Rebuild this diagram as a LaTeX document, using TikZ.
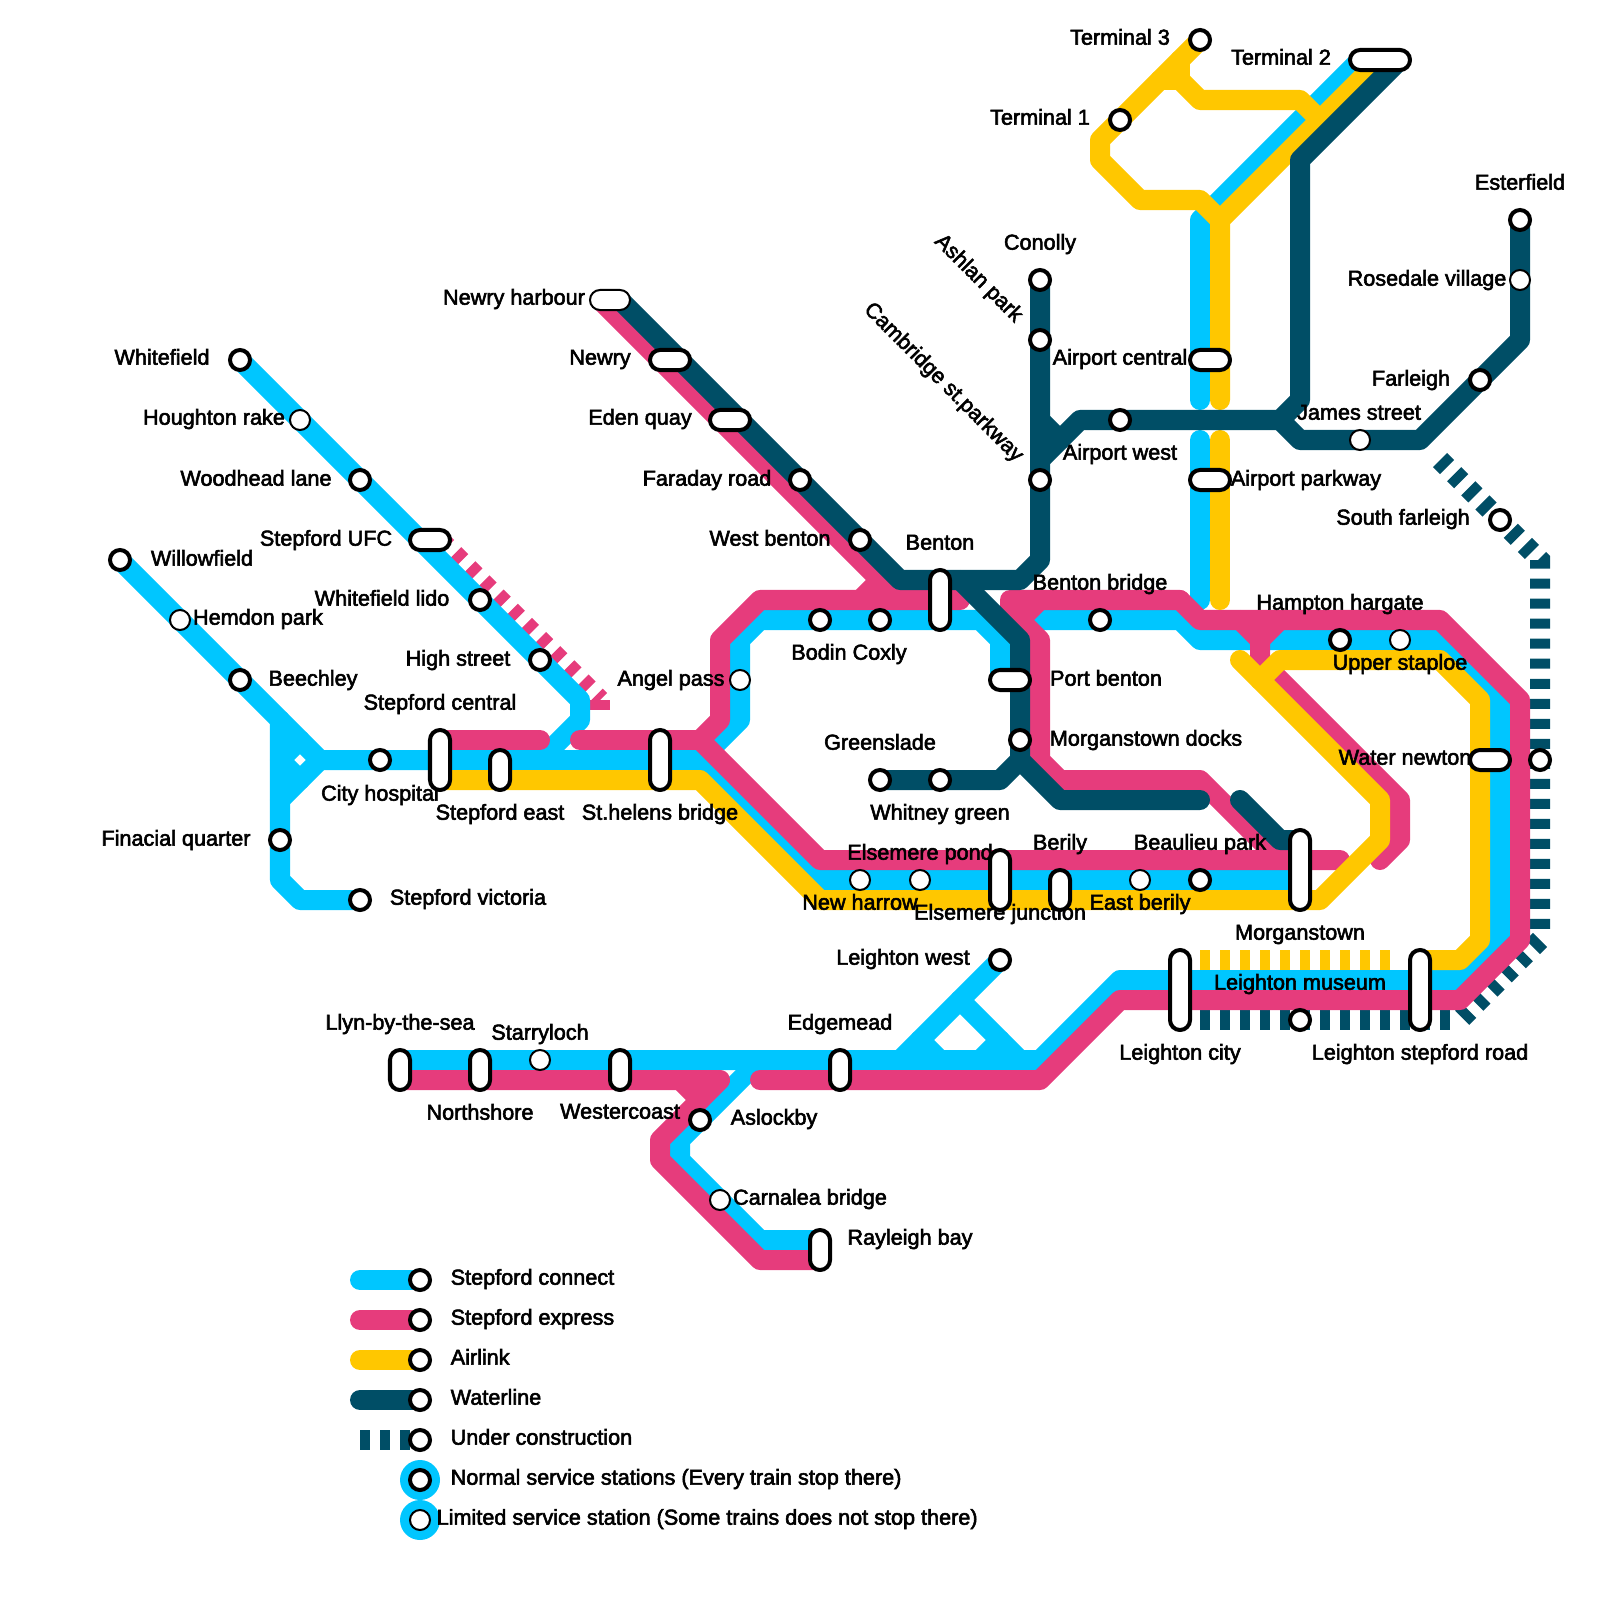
\documentclass[tikz,border=0pt]{standalone}
\usepackage{fontspec}
\setmainfont[RawFeature={embolden=2.6}]{Liberation Sans}
\usetikzlibrary{positioning}
\definecolor{connectblue}{RGB}{0, 198, 255}
\definecolor{expresspink}{RGB}{230, 60, 124}
\definecolor{airlinkyellow}{RGB}{255, 199, 0}
\definecolor{waterteal}{RGB}{0, 78, 102}
\pgfdeclarelayer{lines}
\pgfdeclarelayer{labels}
\pgfsetlayers{lines,labels,main}
\tikzset{
  track/.style={line width=.2cm, line cap=round, line join=round},
  connect/.style={track, connectblue},
  express/.style={track, expresspink},
  airlink/.style={track, airlinkyellow},
  water/.style={track, waterteal},
  unbuilt/.style={line width=.2cm, line cap=butt, line join=miter, dash pattern=on .1cm off .1cm},
  stn/.style={circle, draw=black, fill=white, line width=.04cm, minimum size=.2cm, inner sep=0pt, outer sep=0pt},
  ltd/.style={stn, line width=.02cm},
  pillv/.style={rectangle, rounded corners=.1cm, draw=black, fill=white, line width=.04cm, minimum width=.2cm, minimum height=#1, inner sep=0pt, outer sep=0pt},
  pillh/.style={rectangle, rounded corners=.1cm, draw=black, fill=white, line width=.04cm, minimum height=.2cm, minimum width=#1, inner sep=0pt, outer sep=0pt},
  lbl/.style={font=\fontsize{6.15}{7.4}\selectfont, inner sep=0pt, text height=5pt, text depth=1.2pt}
}

\begin{document}
\begin{tikzpicture}[x=.01cm, y=-.01cm]
  \useasboundingbox (0,0) rectangle (1600,1600);

  %% STATIONS - west branches
  \node[stn] (whitefield) at (240,360) {};
  \node[ltd] (houghton) at (300,420) {};
  \node[stn] (woodhead) at (360,480) {};
  \node[pillh=.4cm] (ufc) at (430,540) {};
  \node[stn] (lido) at (480,600) {};
  \node[stn] (highstreet) at (540,660) {};
  \node[stn] (willowfield) at (120,560) {};
  \node[ltd] (hemdon) at (180,620) {};
  \node[stn] (beechley) at (240,680) {};
  \node[stn] (cityhospital) at (380,760) {};
  \node[stn] (finacial) at (280,840) {};
  \node[stn] (victoria) at (360,900) {};
  \node[pillv=.6cm] (central) at (440,760) {};
  \node[pillv=.4cm] (stepeast) at (500,770) {};
  \node[pillv=.6cm] (sthelens) at (660,760) {};

  %% STATIONS - middle
  \node[pillh=.4cm, line width=.02cm] (harbour) at (610,300) {};
  \node[pillh=.4cm] (newry) at (670,360) {};
  \node[pillh=.4cm] (eden) at (730,420) {};
  \node[stn] (faraday) at (800,480) {};
  \node[stn] (westbenton) at (860,540) {};
  \node[pillv=.6cm] (benton) at (940,600) {};
  \node[stn] (bodin) at (820,620) {};
  \node[stn] (coxly) at (880,620) {};
  \node[ltd] (angel) at (740,680) {};
  \node[pillh=.4cm] (portbenton) at (1010,680) {};
  \node[stn] (docks) at (1020,740) {};
  \node[stn] (greenslade) at (880,780) {};
  \node[stn] (whitney) at (940,780) {};
  \node[stn] (bentonbridge) at (1100,620) {};

  %% STATIONS - airport
  \node[stn] (conolly) at (1040,280) {};
  \node[stn] (ashlan) at (1040,340) {};
  \node[stn] (cambridge) at (1040,480) {};
  \node[pillh=.4cm] (aircentral) at (1210,360) {};
  \node[stn] (airwest) at (1120,420) {};
  \node[pillh=.4cm] (airparkway) at (1210,480) {};
  \node[ltd] (james) at (1360,440) {};
  \node[stn] (farleigh) at (1480,380) {};
  \node[ltd] (rosedale) at (1520,280) {};
  \node[stn] (esterfield) at (1520,220) {};
  \node[stn] (terminalc) at (1200,40) {};
  \node[pillh=.6cm] (terminalb) at (1380,60) {};
  \node[stn] (terminala) at (1120,120) {};
  \node[stn] (southfarleigh) at (1500,520) {};

  %% STATIONS - east and south
  \node[stn] (hampton) at (1340,640) {};
  \node[ltd] (staploe) at (1400,640) {};
  \node[pillh=.4cm] (waternewton) at (1490,760) {};
  \node[stn] (waterdot) at (1540,760) {};
  \node[pillv=.8cm] (morganstown) at (1300,870) {};
  \node[stn] (beaulieu) at (1200,880) {};
  \node[ltd] (eastberily) at (1140,880) {};
  \node[pillv=.4cm] (berily) at (1060,890) {};
  \node[pillv=.6cm] (junction) at (1000,880) {};
  \node[ltd] (pond) at (860,880) {};
  \node[ltd] (harrow) at (920,880) {};
  \node[stn] (leightonwest) at (1000,960) {};
  \node[pillv=.8cm] (leightoncity) at (1180,990) {};
  \node[pillv=.8cm] (stepfordroad) at (1420,990) {};
  \node[stn] (museum) at (1300,1020) {};
  \node[pillv=.4cm] (llyn) at (400,1070) {};
  \node[pillv=.4cm] (northshore) at (480,1070) {};
  \node[ltd] (starryloch) at (540,1060) {};
  \node[pillv=.4cm] (westercoast) at (620,1070) {};
  \node[pillv=.4cm] (edgemead) at (840,1070) {};
  \node[stn] (aslockby) at (700,1120) {};
  \node[ltd] (carnalea) at (720,1200) {};
  \node[pillv=.4cm] (rayleigh) at (820,1250) {};

  %% LEGEND stations
  \node[stn] (keyconnect) at (420,1280) {};
  \node[stn] (keyexpress) at (420,1320) {};
  \node[stn] (keyairlink) at (420,1360) {};
  \node[stn] (keywater) at (420,1400) {};
  \node[stn] (keyunbuilt) at (420,1440) {};
  \node[stn] (keynormal) at (420,1480) {};
  \node[ltd] (keylimited) at (420,1520) {};

  \begin{pgfonlayer}{lines}
    %% UNDER CONSTRUCTION
    \draw[unbuilt, expresspink] (ufc.center) ++(10,0) -- (600,700);
    \draw[expresspink, line width=.1cm] (590,705) -- (610,705);
    \draw[unbuilt, waterteal] (1440,460) -- (southfarleigh.center) -- (1540,560) -- (1540,930);
    \draw[unbuilt, waterteal] (1540,940) -- (1460,1020);
    \draw[unbuilt, waterteal] (1200,1020) -- (1450,1020);
    \draw[unbuilt, airlinkyellow] (1200,960) -- (1400,960);

    %% STEPFORD CONNECT
    \draw[connect] (whitefield.center) -- (highstreet.center) -- (580,700) -- (580,720) -- (540,760);
    \draw[connect] (willowfield.center) -- (320,760) -- (700,760) -- (820,880) -- (1290,880);
    \draw[connect] (280,720) -- (finacial.center) -- (280,880) -- (300,900) -- (victoria.center);
    \draw[connect] (320,760) -- (280,800);
    \draw[connect] (300,740) -- (280,760) -- (300,780);
    \draw[connect] (700,760) -- (740,720) -- (angel.center) -- (740,640) -- (760,620) -- (980,620) -- (1000,640) -- (1000,680);
    \draw[connect] (1040,620) -- (1180,620) -- (1200,640) -- (1440,640) -- (1500,700) -- (1500,940) -- (1460,980) -- (1120,980) -- (1040,1060) -- (400,1060);
    \draw[connect] (leightonwest.center) -- (900,1060);
    \draw[connect] (960,1000) -- (1020,1060);
    \draw[connect] (920,1040) -- (940,1060);
    \draw[connect] (980,1060) -- (1000,1040);
    \draw[connect] (760,1060) -- (aslockby.center) -- (680,1140) -- (680,1160) -- (carnalea.center) -- (760,1240) -- (820,1240);
    \draw[connect] (1360,60) -- (1200,220) -- (1200,400);
    \draw[connect] (1200,440) -- (1200,600);

    %% STEPFORD EXPRESS
    \draw[express] (600,300) -- (900,600);
    \draw[express] (960,600) -- (760,600) -- (720,640) -- (720,720) -- (700,740) -- (820,860) -- (1340,860);
    \draw[express] (580,740) -- (700,740);
    \draw[express] (440,740) -- (540,740);
    \draw[express] (860,600) -- (880,580);
    \draw[express] (1180,600) -- (1010,600) -- (1010,610) -- (1040,640) -- (1040,760) -- (1060,780) -- (1200,780) -- (1280,860);
    \draw[express] (1020,620) -- (1040,600);
    \draw[express] (1180,600) -- (1200,620) -- (1440,620) -- (1520,700) -- (1520,940) -- (1460,1000) -- (1120,1000) -- (1040,1080) -- (760,1080);
    \draw[express] (1240,620) -- (1260,640) -- (1280,620);
    \draw[express] (1260,620) -- (1260,660) -- (1400,800) -- (1400,840) -- (1380,860);
    \draw[express] (400,1080) -- (720,1080) -- (660,1140) -- (660,1160) -- (760,1260) -- (820,1260);
    \draw[express] (680,1080) -- (700,1100);

    %% AIRLINK
    \draw[airlink] (440,780) -- (700,780) -- (820,900) -- (1320,900) -- (1380,840) -- (1380,800) -- (1240,660);
    \draw[airlink] (terminalc.center) -- (terminala.center) -- (1100,140) -- (1100,160) -- (1140,200) -- (1200,200) -- (1220,220);
    \draw[airlink] (1180,60) -- (1180,80) -- (1160,80);
    \draw[airlink] (1180,80) -- (1200,100) -- (1300,100) -- (1320,120);
    \draw[airlink] (1380,60) -- (1220,220) -- (1220,400);
    \draw[airlink] (1220,440) -- (1220,600);
    \draw[airlink] (1260,680) -- (1280,660) -- (1440,660) -- (1480,700) -- (1480,940) -- (1460,960) -- (1420,960);

    %% WATERLINE
    \draw[water] (620,300) -- (faraday.center) -- (westbenton.center) -- (900,580) -- (1020,580) -- (1040,560) -- (cambridge.center) -- (ashlan.center) -- (conolly.center);
    \draw[water] (960,580) -- (1020,640) -- (docks.center) -- (1020,760) -- (1060,800) -- (1200,800);
    \draw[water] (1020,760) -- (1000,780) -- (whitney.center) -- (greenslade.center);
    \draw[water] (1240,800) -- (1280,840) -- (1300,840);
    \draw[water] (1040,460) -- (1080,420) -- (airwest.center) -- (1280,420) -- (1300,400) -- (1300,160) -- (1400,60);
    \draw[water] (1040,420) -- (1060,440);
    \draw[water] (1280,420) -- (1300,440) -- (james.center) -- (1420,440) -- (farleigh.center) -- (1520,340) -- (rosedale.center) -- (esterfield.center);

    %% LEGEND lines
    \draw[connect] (360,1280) -- (keyconnect.center);
    \draw[express] (360,1320) -- (keyexpress.center);
    \draw[airlink] (360,1360) -- (keyairlink.center);
    \draw[water] (360,1400) -- (keywater.center);
    \draw[unbuilt, waterteal] (360,1440) -- (keyunbuilt.center);
    \fill[connectblue] (keynormal.center) circle (20);
    \fill[connectblue] (keylimited.center) circle (20);
  \end{pgfonlayer}

  \begin{pgfonlayer}{labels}
    %% LABELS - west
    \node[lbl] (lwhitefield) at (162,358) {Whitefield};
    \node[lbl] (lhoughton) at (214,418) {Houghton rake};
    \node[lbl] (lwoodhead) at (256,479) {Woodhead lane};
    \node[lbl] (lufc) at (326,539) {Stepford UFC};
    \node[lbl] (lwillowfield) at (202,559) {Willowfield};
    \node[lbl] (lhemdon) at (258,618) {Hemdon park};
    \node[lbl] (llido) at (382,599) {Whitefield lido};
    \node[lbl] (lhighstreet) at (458,659) {High street};
    \node[lbl] (lbeechley) at (313,679) {Beechley};
    \node[lbl] (lcentral) at (440,703) {Stepford central};
    \node[lbl] (lcityhospital) at (380,794) {City hospital};
    \node[lbl] (lstepeast) at (500,813) {Stepford east};
    \node[lbl] (lsthelens) at (660,813) {St.helens bridge};
    \node[lbl] (lfinacial) at (176,839) {Finacial quarter};
    \node[lbl] (lvictoria) at (468,898) {Stepford victoria};

    %% LABELS - middle
    \node[lbl] (lharbour) at (514,298) {Newry harbour};
    \node[lbl] (lnewry) at (600,358) {Newry};
    \node[lbl] (leden) at (640,418) {Eden quay};
    \node[lbl] (lfaraday) at (707,479) {Faraday road};
    \node[lbl] (lwestbenton) at (770,539) {West benton};
    \node[lbl] (lbenton) at (940,543) {Benton};
    \node[lbl] (lbodin) at (849,653) {Bodin Coxly};
    \node[lbl] (langel) at (671,679) {Angel pass};
    \node[lbl] (lgreenslade) at (880,743) {Greenslade};
    \node[lbl] (lwhitney) at (940,813) {Whitney green};
    \node[lbl] (lportbenton) at (1106,679) {Port benton};
    \node[lbl] (ldocks) at (1146,739) {Morganstown docks};
    \node[lbl] (lbentonbridge) at (1100,583) {Benton bridge};

    %% LABELS - airport
    \node[lbl] (lconolly) at (1040,243) {Conolly};
    \node[lbl, rotate=-45] (lashlan) at (979,278) {Ashlan park};
    \node[lbl, rotate=-45] (lcambridge) at (944,382) {Cambridge st.parkway};
    \node[lbl] (laircentral) at (1120,358) {Airport central};
    \node[lbl] (lairwest) at (1120,453) {Airport west};
    \node[lbl] (lairparkway) at (1306,479) {Airport parkway};
    \node[lbl] (ljames) at (1359,413) {James street};
    \node[lbl] (lfarleigh) at (1411,379) {Farleigh};
    \node[lbl] (lrosedale) at (1427,279) {Rosedale village};
    \node[lbl] (lesterfield) at (1520,183) {Esterfield};
    \node[lbl] (lterminalc) at (1120,38) {Terminal 3};
    \node[lbl] (lterminalb) at (1281,58) {Terminal 2};
    \node[lbl] (lterminala) at (1040,118) {Terminal 1};
    \node[lbl] (lsouthfarleigh) at (1403,518) {South farleigh};

    %% LABELS - east and south
    \node[lbl] (lhampton) at (1340,603) {Hampton hargate};
    \node[lbl] (lstaploe) at (1400,663) {Upper staploe};
    \node[lbl] (lwaternewton) at (1405,758) {Water newton};
    \node[lbl] (lpond) at (920,853) {Elsemere pond};
    \node[lbl] (lberily) at (1060,843) {Berily};
    \node[lbl] (lbeaulieu) at (1200,843) {Beaulieu park};
    \node[lbl] (lharrow) at (860,903) {New harrow};
    \node[lbl] (ljunction) at (1000,913) {Elsemere junction};
    \node[lbl] (leastberily) at (1140,903) {East berily};
    \node[lbl] (lmorganstown) at (1300,933) {Morganstown};
    \node[lbl] (lmuseum) at (1300,983) {Leighton museum};
    \node[lbl] (lleightonwest) at (903,958) {Leighton west};
    \node[lbl] (lleightoncity) at (1180,1053) {Leighton city};
    \node[lbl] (lstepfordroad) at (1420,1053) {Leighton stepford road};
    \node[lbl] (lllyn) at (400,1023) {Llyn-by-the-sea};
    \node[lbl] (lstarryloch) at (540,1033) {Starryloch};
    \node[lbl] (ledgemead) at (840,1023) {Edgemead};
    \node[lbl] (lnorthshore) at (480,1113) {Northshore};
    \node[lbl] (lwestercoast) at (620,1112) {Westercoast};
    \node[lbl] (laslockby) at (774,1118) {Aslockby};
    \node[lbl] (lcarnalea) at (810,1198) {Carnalea bridge};
    \node[lbl] (lrayleigh) at (910,1238) {Rayleigh bay};

    %% LABELS - legend
    \node[lbl, anchor=west] (lkeyconnect) at (450,1278) {Stepford connect};
    \node[lbl, anchor=west] (lkeyexpress) at (450,1318) {Stepford express};
    \node[lbl, anchor=west] (lkeyairlink) at (450,1358) {Airlink};
    \node[lbl, anchor=west] (lkeywater) at (450,1398) {Waterline};
    \node[lbl, anchor=west] (lkeyunbuilt) at (450,1438) {Under construction};
    \node[lbl, anchor=west] (lkeynormal) at (450,1478) {Normal service stations (Every train stop there)};
  \end{pgfonlayer}
  \node[lbl, anchor=west] (lkeylimited) at (436,1518) {Limited service station (Some trains does not stop there)};
\end{tikzpicture}
\end{document}
